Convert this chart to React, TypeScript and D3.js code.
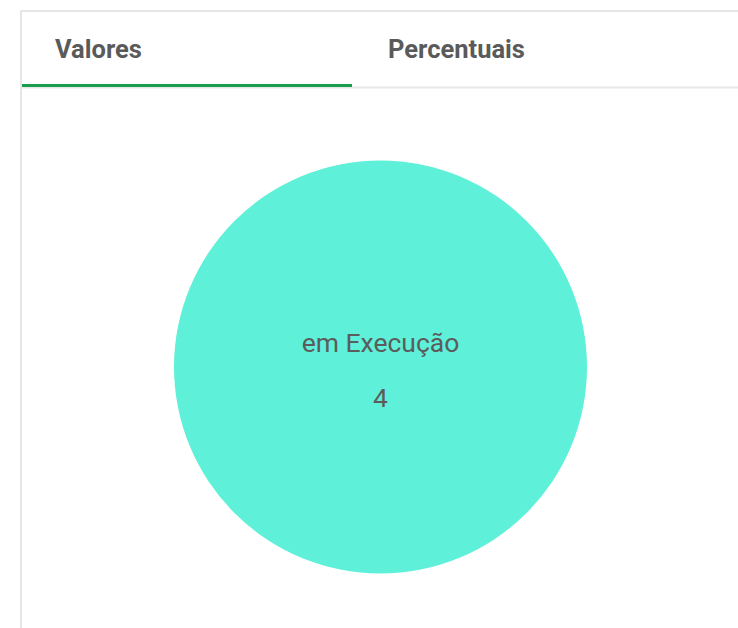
import React from "react";
import * as d3 from "d3";

const tabs = ["Valores", "Percentuais"];
const categories = ["em Execução"];
const values = [4];
const colors = ["#5ef0d8"];

export default function App() {
  const W = 738, H = 628;
  const cx = 380.5, cy = 367, r = 206.5;
  const pie = d3.pie<number>().sort(null).value((d) => d);
  const arcs = pie(values);
  const arcGen = d3.arc<d3.PieArcDatum<number>>().innerRadius(0).outerRadius(r);
  const tabX = d3.scalePoint<string>().domain(tabs).range([55, 388]);
  return (
    <div style={{ position: "fixed", left: 0, top: 0, width: W, height: H, background: "#fff" }}>
      <svg width={W} height={H} style={{ display: "block" }}>
        <line x1={20} x2={W} y1={11} y2={11} stroke="#e6e6e6" strokeWidth={2} />
        <line x1={21} x2={21} y1={10} y2={H} stroke="#e6e6e6" strokeWidth={2} />
        <line x1={22} x2={W} y1={87.5} y2={87.5} stroke="#e8e8e8" strokeWidth={2} />
        <line x1={22} x2={352} y1={85.5} y2={85.5} stroke="#1a9e4e" strokeWidth={3} />
        {tabs.map((t) => (
          <text key={t} x={tabX(t)} y={58} fontFamily="Roboto, sans-serif" fontWeight={700} fontSize={25.5} fill="#5a5a5a">
            {t}
          </text>
        ))}
        <g transform={`translate(${cx},${cy})`}>
          {arcs.map((a, i) => (
            <g key={i}>
              <path d={arcGen(a) || ""} fill={colors[i]} />
              <text x={0} y={-15} textAnchor="middle" fontFamily="Roboto, sans-serif" fontSize={26.5} fill="#5c5c5c">
                {categories[i]}
              </text>
              <text x={0} y={40} textAnchor="middle" fontFamily="Roboto, sans-serif" fontSize={26.5} fill="#5c5c5c">
                {String(a.data)}
              </text>
            </g>
          ))}
        </g>
      </svg>
    </div>
  );
}
